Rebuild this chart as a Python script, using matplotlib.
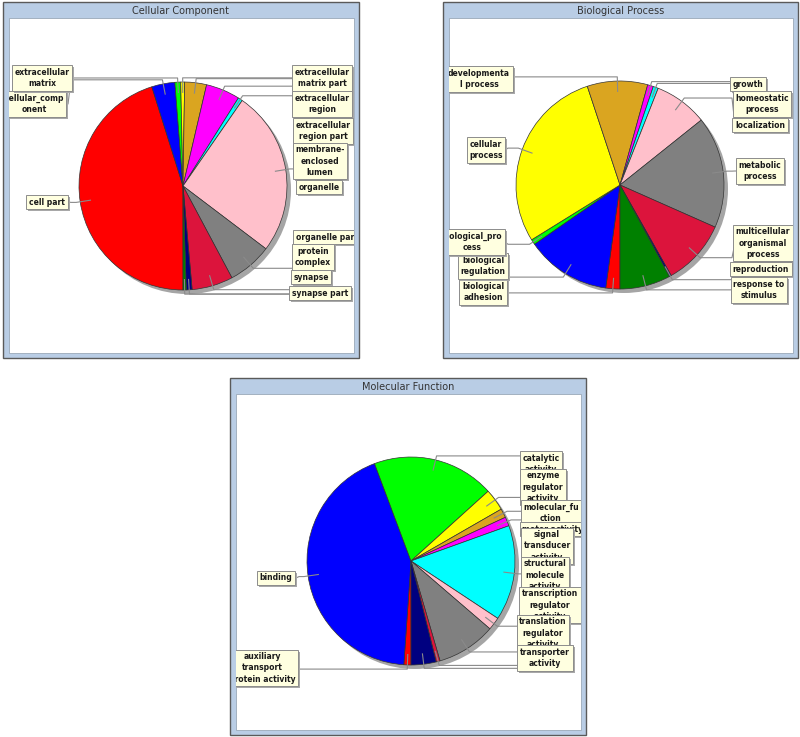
import numpy as np
import matplotlib.pyplot as plt
from matplotlib.patches import Rectangle, Circle

W, H = 800, 737

slice_colors = ['#FF0000', '#0000FF', '#00FF00', '#FFFF00', '#DAA520', '#FF00FF',
                '#00FFFF', '#FFC0CB', '#808080', '#DC143C', '#000080', '#008000']

# Cellular Component
cc_labels = ['cell part', 'cellular_comp\nonent', 'extracellular\nmatrix',
             'extracellular\nmatrix part', 'extracellular\nregion', 'extracellular\nregion part',
             'membrane-\nenclosed\nlumen', 'organelle', 'organelle part', 'protein\ncomplex',
             'synapse', 'synapse part']
cc_values = [45.2, 3.6, 0.9, 0.6, 3.4, 5.3, 0.7, 25.7, 6.9, 6.4, 0.9, 0.5]

# Biological Process
bp_labels = ['biological\nadhesion', 'biological\nregulation', 'biological_pro\ncess',
             'cellular\nprocess', 'developmenta\nl process', 'growth', 'homeostatic\nprocess',
             'localization', 'metabolic\nprocess', 'multicellular\norganismal\nprocess',
             'reproduction', 'response to\nstimulus']
bp_values = [2.2, 13.2, 0.8, 28.8, 9.4, 0.9, 0.8, 8.3, 17.4, 10.2, 0.3, 7.9]

# Molecular Function
mf_labels = ['auxiliary\ntransport\nprotein activity', 'binding', 'catalytic\nactivity',
             'enzyme\nregulator\nactivity', 'molecular_fu\nction', 'motor activity',
             'signal\ntransducer\nactivity', 'structural\nmolecule\nactivity',
             'transcription\nregulator\nactivity', 'translation\nregulator\nactivity',
             'transporter\nactivity']
mf_values = [1.1, 43.2, 19.0, 3.4, 1.4, 1.4, 14.8, 2.0, 9.2, 0.6, 3.9]

# layout (pixels, from top-left)
cc_label_pos = [(47, 202), (34, 104), (42, 78), (322, 78), (322, 104), (323, 131),
                (320, 161), (319, 187), (327, 237), (313, 257), (311, 277), (320, 293)]
bp_label_pos = [(483, 292), (483, 266), (472, 242), (486, 150), (479, 79), (748, 84),
                (762, 104), (760, 125), (760, 171), (763, 243), (761, 269), (759, 290)]
mf_label_pos = [(262, 668), (276, 578), (541, 464), (543, 487), (551, 513), (553, 529),
                (547, 546), (545, 575), (550, 605), (543, 633), (545, 658)]

plt.rcParams['font.family'] = 'DejaVu Sans'

fig = plt.figure(figsize=(8, 7.37), dpi=100)
ax = fig.add_axes([0, 0, 1, 1])


def draw_panel(box, title):
    x0, y0, x1, y1 = box
    ax.add_patch(Rectangle((x0, H - y1), x1 - x0, y1 - y0, fc='#B9CDE5', ec='#5A5A5A',
                           lw=1.0, zorder=0))
    inner = Rectangle((x0 + 6, H - y1 + 5), x1 - x0 - 11, y1 - y0 - 21, fc='white',
                      ec='#9AA8B8', lw=0.6, zorder=0.5)
    ax.add_patch(inner)
    ax.text((x0 + x1) / 2, H - (y0 + 9), title, ha='center', va='center',
            fontsize=7, color='#333333')
    return inner


def draw_pie(inner, center, r, values, labels, label_pos):
    cx, cy = center[0], H - center[1]
    ax.add_patch(Circle((cx + 4, cy - 4), r, fc='#A5A5A5', ec='none', zorder=2))
    ax.pie(values, colors=slice_colors[:len(values)], startangle=-90, counterclock=False,
           center=(cx, cy), radius=r, frame=True,
           wedgeprops=dict(ec='#333333', lw=0.5, zorder=3))
    total = sum(values)
    frac = np.cumsum(values) / total - np.array(values) / total / 2
    for i, (lab, (lx, ly)) in enumerate(zip(labels, label_pos)):
        th = np.radians(-90 - 360 * frac[i])
        ly = H - ly
        s = 1 if lx > cx else -1
        ax0, ay0 = cx + 0.9 * r * np.cos(th), cy + 0.9 * r * np.sin(th)
        ex, ey = cx + 1.04 * r * np.cos(th), cy + 1.04 * r * np.sin(th)
        side = cx + s * (r + 8)
        if s * (ex - side) > 0:
            side = ex
        line, = ax.plot([ax0, ex, side, side + s * 3, lx], [ay0, ey, ey, ly, ly],
                        color='#8A8A8A', lw=0.8, zorder=4)
        line.set_clip_path(inner)
        sh = ax.text(lx + 2, ly - 2, lab, ha='center', va='center', fontsize=5.5,
                     fontweight='bold', color='none', linespacing=1.3,
                     zorder=9 + 2 * i, clip_on=True,
                     bbox=dict(boxstyle='square,pad=0.35', fc='#A8A8A8', ec='none'))
        sh.set_clip_path(inner)
        t = ax.text(lx, ly, lab, ha='center', va='center', fontsize=5.5, fontweight='bold',
                    color='#1A1A1A', linespacing=1.3, zorder=10 + 2 * i, clip_on=True,
                    bbox=dict(boxstyle='square,pad=0.35', fc='#FFFFE0', ec='#8C8C8C', lw=0.7))
        t.set_clip_path(inner)


cc_inner = draw_panel((3, 2, 359, 358), 'Cellular Component')
draw_pie(cc_inner, (183, 186), 104, cc_values, cc_labels, cc_label_pos)

bp_inner = draw_panel((443, 2, 798, 358), 'Biological Process')
draw_pie(bp_inner, (620, 185), 104, bp_values, bp_labels, bp_label_pos)

mf_inner = draw_panel((230, 378, 586, 735), 'Molecular Function')
draw_pie(mf_inner, (411, 561), 104, mf_values, mf_labels, mf_label_pos)

ax.set_xlim(0, W)
ax.set_ylim(0, H)
ax.set_aspect('auto')
ax.axis('off')

fig.savefig('out.png', dpi=100)
